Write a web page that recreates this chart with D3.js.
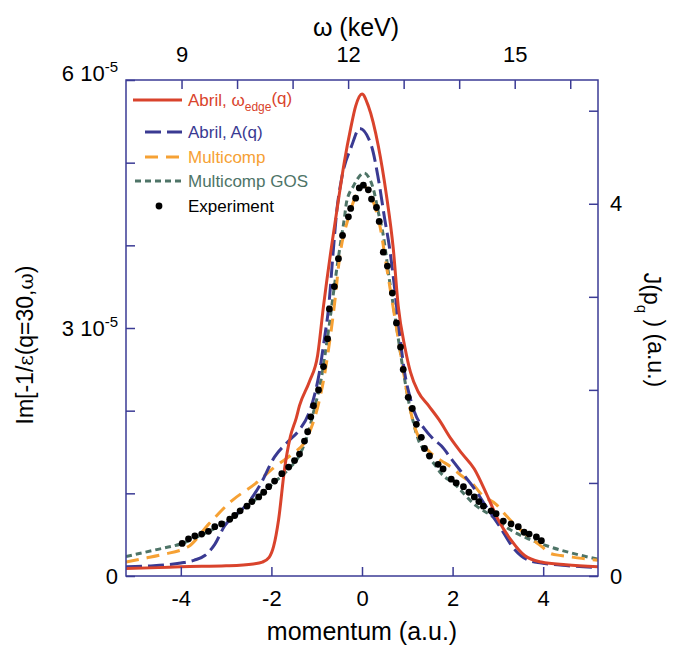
<!DOCTYPE html>
<html>
<head>
<meta charset="utf-8">
<script src="https://cdn.jsdelivr.net/npm/d3@7"></script>
<style>
  body { margin: 0; background: #fff; }
  svg { font-family: "Liberation Sans", Arial, Helvetica, sans-serif; }
</style>
</head>
<body>
<svg id="chart" width="678" height="651"></svg>
<script>
// momentum (a.u.) and J(p_q) (a.u.)
const abrilEdgeQ = [-5.21, -4.5, -4, -3, -2.4, -2.2, -2.05, -1.95, -1.84, -1.71, -1.58, -1.45, -1.38, -1.16, -0.98, -0.85, -0.67, -0.56, -0.39, -0.25, -0.14, 0, 0.14, 0.36, 0.54, 0.69, 0.8, 0.95, 1.07, 1.24, 1.47, 1.7, 1.97, 2.2, 2.48, 2.75, 3.0, 3.3, 3.59, 3.96, 4.5, 5.21];
const abrilEdgeJ = [0.08, 0.09, 0.10, 0.11, 0.13, 0.15, 0.2, 0.32, 0.61, 1.15, 1.5, 1.7, 1.83, 2.09, 2.37, 2.9, 3.55, 3.91, 4.45, 4.81, 5.05, 5.18, 5.05, 4.62, 4.09, 3.52, 2.9, 2.45, 2.19, 1.98, 1.83, 1.68, 1.47, 1.32, 1.15, 0.88, 0.61, 0.38, 0.22, 0.15, 0.12, 0.10];

const abrilAQ = [-5.21, -4.6, -4.0, -3.7, -3.47, -3.25, -3.03, -2.81, -2.54, -2.26, -1.93, -1.62, -1.4, -1.18, -1.05, -0.94, -0.83, -0.74, -0.63, -0.56, -0.45, -0.23, -0.05, 0.21, 0.36, 0.5, 0.61, 0.72, 0.8, 0.87, 0.94, 1.05, 1.16, 1.38, 1.58, 1.75, 2.0, 2.19, 2.48, 2.75, 3.03, 3.36, 3.67, 3.96, 4.55, 5.21];
const abrilAJ = [0.10, 0.11, 0.14, 0.17, 0.22, 0.34, 0.54, 0.65, 0.77, 0.97, 1.28, 1.45, 1.56, 1.74, 1.94, 2.19, 2.55, 2.87, 3.52, 3.91, 4.27, 4.62, 4.81, 4.62, 4.27, 3.84, 3.52, 3.09, 2.73, 2.44, 2.19, 1.94, 1.76, 1.58, 1.47, 1.40, 1.24, 1.12, 0.94, 0.74, 0.54, 0.29, 0.17, 0.14, 0.11, 0.09];

const multicompQ = [-5.21, -4.8, -4.41, -3.82, -3.38, -2.87, -2.36, -1.93, -1.49, -1.29, -1.1, -0.96, -0.85, -0.72, -0.6, -0.5, -0.3, -0.1, 0.03, 0.2, 0.4, 0.55, 0.7, 0.85, 1.0, 1.15, 1.3, 1.5, 1.75, 1.97, 2.19, 2.48, 2.63, 2.96, 3.18, 3.4, 3.74, 3.96, 4.17, 4.39, 4.68, 4.99, 5.21];
const multicompJ = [0.15, 0.19, 0.23, 0.32, 0.56, 0.81, 0.99, 1.17, 1.33, 1.42, 1.62, 1.85, 2.1, 2.5, 2.95, 3.4, 3.85, 4.12, 4.19, 4.08, 3.75, 3.3, 2.85, 2.4, 1.95, 1.62, 1.45, 1.33, 1.24, 1.17, 1.08, 0.97, 0.88, 0.77, 0.65, 0.54, 0.40, 0.32, 0.24, 0.22, 0.20, 0.18, 0.17];

const gosQ = [-5.21, -4.57, -3.97, -3.5, -3.0, -2.5, -2.0, -1.6, -1.4, -1.2, -1.05, -0.9, -0.75, -0.6, -0.47, -0.39, -0.34, -0.19, 0.05, 0.14, 0.25, 0.36, 0.47, 0.6, 0.75, 0.88, 1.0, 1.1, 1.24, 1.4, 1.6, 1.75, 2.04, 2.48, 2.85, 3.23, 3.67, 4.17, 4.68, 5.21];
const gosJ = [0.21, 0.28, 0.35, 0.45, 0.58, 0.76, 0.98, 1.16, 1.28, 1.52, 1.80, 2.12, 2.6, 3.15, 3.59, 3.84, 4.02, 4.19, 4.33, 4.29, 4.16, 3.91, 3.66, 3.2, 2.72, 2.3, 1.95, 1.72, 1.47, 1.33, 1.2, 1.10, 0.99, 0.77, 0.65, 0.51, 0.40, 0.31, 0.24, 0.18];

const expQ = [-3.97, -3.83, -3.69, -3.54, -3.39, -3.25, -3.10, -2.92, -2.81, -2.69, -2.54, -2.43, -2.28, -2.17, -2.06, -1.93, -1.77, -1.62, -1.49, -1.38, -1.27, -1.20, -1.13, -1.07, -0.96, -0.85, -0.76, -0.72, -0.61, -0.52, -0.43, -0.30, -0.25, -0.14, -0.06, 0.03, 0.14, 0.21, 0.32, 0.38, 0.47, 0.56, 0.67, 0.76, 0.85, 0.91, 1.02, 1.11, 1.20, 1.31, 1.38, 1.49, 1.68, 1.79, 1.97, 2.08, 2.24, 2.36, 2.48, 2.58, 2.68, 2.85, 2.96, 3.12, 3.29, 3.45, 3.58, 3.69, 3.85, 3.96];
const expJ = [0.35, 0.40, 0.43, 0.45, 0.48, 0.53, 0.56, 0.61, 0.65, 0.70, 0.75, 0.80, 0.85, 0.90, 0.96, 1.02, 1.10, 1.17, 1.24, 1.31, 1.45, 1.55, 1.71, 1.83, 2.00, 2.25, 2.55, 2.87, 3.11, 3.41, 3.66, 3.86, 3.95, 4.06, 4.17, 4.20, 4.15, 4.05, 3.96, 3.81, 3.48, 3.33, 3.04, 2.72, 2.46, 2.22, 1.92, 1.80, 1.63, 1.49, 1.37, 1.29, 1.20, 1.15, 1.04, 1.00, 0.96, 0.90, 0.85, 0.80, 0.75, 0.70, 0.67, 0.59, 0.56, 0.53, 0.47, 0.45, 0.42, 0.38];

const bottomTicks = [-4, -2, 0, 2, 4];
const topTicks = [9, 10, 11, 12, 13, 14, 15, 16];
const topLabels = [9, 12, 15];
const leftTicks = [0, 1e-5, 2e-5, 3e-5, 4e-5, 5e-5, 6e-5];
const leftLabels = [0, 3e-5, 6e-5];
const rightTicks = [0, 1, 2, 3, 4, 5];
const rightLabels = [0, 4];

const series = [
  { name: "Abril, \u03C9", sub: "edge", tail: "(q)", q: abrilEdgeQ, j: abrilEdgeJ, color: "#d9432c", dash: null, width: 3 },
  { name: "Abril, A(q)", q: abrilAQ, j: abrilAJ, color: "#3a3a92", dash: "16,6", width: 3 },
  { name: "Multicomp", q: multicompQ, j: multicompJ, color: "#f6a134", dash: "13,8", width: 3 },
  { name: "Multicomp GOS", q: gosQ, j: gosJ, color: "#4e7467", dash: "6,4", width: 3 }
];

const frameColor = "#3b3b95";
const L = 126, R = 598, T = 80, B = 576;

const svg = d3.select("#chart");

const x = d3.scaleLinear().domain([-5.21, 5.21]).range([L, R]);
const xTop = d3.scaleLinear().domain([8.0, 16.5]).range([L, R]);
const yLeft = d3.scaleLinear().domain([0, 6e-5]).range([B, T]);
const yRight = d3.scaleLinear().domain([0, 5.33]).range([B, T]);

// * curves
svg.append("clipPath").attr("id", "clip")
  .append("rect").attr("x", L).attr("y", T).attr("width", R - L).attr("height", B - T);

const curveLayer = svg.append("g").attr("clip-path", "url(#clip)");
const line = d3.line().x((d) => x(d[0])).y((d) => yRight(d[1])).curve(d3.curveMonotoneX);

series.slice().reverse().forEach((s) => {
  curveLayer.append("path")
    .datum(s.q.map((v, i) => [v, s.j[i]]))
    .attr("d", line)
    .style("fill", "none")
    .style("stroke", s.color)
    .style("stroke-width", s.width)
    .style("stroke-dasharray", s.dash);
});

curveLayer.selectAll("circle.exp")
  .data(expQ.map((v, i) => [v, expJ[i]]))
  .enter()
  .append("circle")
  .attr("class", "exp")
  .attr("cx", (d) => x(d[0]))
  .attr("cy", (d) => yRight(d[1]))
  .attr("r", 3.4)
  .style("fill", "#000");

// * axes
const styleAxis = (g) => {
  g.select(".domain").remove();
  g.selectAll(".tick line").style("stroke", frameColor).style("stroke-width", 1.5);
  g.selectAll("text").style("font-size", "22px").style("fill", "#000");
};

svg.append("g")
  .attr("transform", `translate(0,${B})`)
  .call(d3.axisBottom(x).tickValues(bottomTicks).tickSize(-9).tickPadding(14).tickFormat((d) => String(d)))
  .call(styleAxis);

svg.append("g")
  .attr("transform", `translate(0,${T})`)
  .call(d3.axisTop(xTop).tickValues(topTicks).tickSize(-9).tickPadding(18)
    .tickFormat((d) => (topLabels.includes(d) ? String(d) : "")))
  .call(styleAxis);

const leftAxis = svg.append("g")
  .attr("transform", `translate(${L},0)`)
  .call(d3.axisLeft(yLeft).tickValues(leftTicks).tickSize(-9).tickPadding(8).tickFormat(() => ""))
  .call(styleAxis);

leftAxis.selectAll(".tick text").each(function (d) {
  if (!leftLabels.includes(d)) return;
  const t = d3.select(this).attr("dy", d === 6e-5 ? "0" : "0.32em");
  if (d === 0) {
    t.text("0");
    return;
  }
  t.append("tspan").text(`${Math.round(d / 1e-5)} 10`);
  t.append("tspan").attr("dy", "-0.55em").style("font-size", "15px").text("-5");
});

svg.append("g")
  .attr("transform", `translate(${R},0)`)
  .call(d3.axisRight(yRight).tickValues(rightTicks).tickSize(-9).tickPadding(12)
    .tickFormat((d) => (rightLabels.includes(d) ? String(d) : "")))
  .call(styleAxis);

// * frame
svg.append("rect")
  .attr("x", L).attr("y", T).attr("width", R - L).attr("height", B - T)
  .style("fill", "none").style("stroke", frameColor).style("stroke-width", 1.5);

// * axis titles
svg.append("text")
  .attr("x", (L + R) / 2).attr("y", 640)
  .attr("text-anchor", "middle").style("font-size", "25px")
  .text("momentum (a.u.)");

svg.append("text")
  .attr("x", 356).attr("y", 36)
  .attr("text-anchor", "middle").style("font-size", "25px")
  .text("\u03C9 (keV)");

const leftTitle = svg.append("text")
  .attr("transform", "translate(33,345) rotate(-90)")
  .attr("text-anchor", "middle").style("font-size", "23px");
leftTitle.append("tspan").text("Im[-1/");
leftTitle.append("tspan").style("font-family", "DejaVu Serif, serif").style("font-size", "20px").text("\u03B5");
leftTitle.append("tspan").text("(q=30,");
leftTitle.append("tspan").style("font-family", "DejaVu Serif, serif").style("font-size", "20px").text("\u03C9");
leftTitle.append("tspan").text(")");

const rightTitle = svg.append("text")
  .attr("transform", "translate(644,330) rotate(90)")
  .attr("text-anchor", "middle").style("font-size", "23px");
rightTitle.append("tspan").text("J(p");
rightTitle.append("tspan").attr("dy", "0.45em").style("font-size", "15px").text("q");
rightTitle.append("tspan").attr("dy", "-0.45em").text(" ) (a.u.)");

// * legend
const legendRows = [100, 132, 157, 181, 206];
const legend = svg.append("g");
series.forEach((s, i) => {
  const yy = legendRows[i];
  legend.append("line")
    .attr("x1", i === 0 ? 133 : i === 3 ? 135 : 145).attr("x2", 182)
    .attr("y1", yy).attr("y2", yy)
    .style("stroke", s.color).style("stroke-width", 3)
    .style("stroke-dasharray", s.dash);
  const t = legend.append("text")
    .attr("x", 188).attr("y", yy).attr("dy", "0.35em")
    .style("font-size", "17px").style("fill", s.color);
  t.append("tspan").text(s.name);
  if (s.sub) {
    t.append("tspan").attr("dy", "0.45em").style("font-size", "12px").text(s.sub);
    t.append("tspan").attr("dy", "-0.45em").text(s.tail);
  }
});
legend.append("circle").attr("cx", 159).attr("cy", legendRows[4]).attr("r", 3.4).style("fill", "#000");
legend.append("text")
  .attr("x", 188).attr("y", legendRows[4]).attr("dy", "0.35em")
  .style("font-size", "17px").text("Experiment");
</script>
</body>
</html>
